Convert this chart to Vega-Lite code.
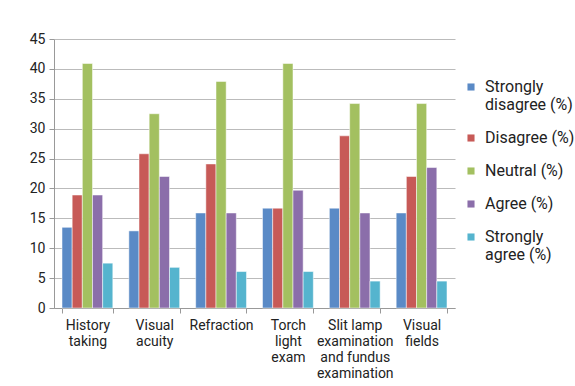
{
  "$schema": "https://vega.github.io/schema/vega-lite/v6.json",
  "autosize": "none",
  "width": 401,
  "height": 269,
  "padding": {"left": 54, "top": 39, "right": 120, "bottom": 78},
  "background": "white",
  "config": {
    "font": "Roboto",
    "view": {"stroke": null},
    "axis": {"labelFont": "Roboto", "labelColor": "#222", "labelFontSize": 14}
  },
  "data": {
    "values": [
      {"cat": "History taking", "series": "Strongly disagree (%)", "v": 13.5},
      {"cat": "History taking", "series": "Disagree (%)", "v": 18.9},
      {"cat": "History taking", "series": "Neutral (%)", "v": 40.9},
      {"cat": "History taking", "series": "Agree (%)", "v": 18.9},
      {"cat": "History taking", "series": "Strongly agree (%)", "v": 7.5},
      {"cat": "Visual acuity", "series": "Strongly disagree (%)", "v": 12.9},
      {"cat": "Visual acuity", "series": "Disagree (%)", "v": 25.8},
      {"cat": "Visual acuity", "series": "Neutral (%)", "v": 32.5},
      {"cat": "Visual acuity", "series": "Agree (%)", "v": 22.0},
      {"cat": "Visual acuity", "series": "Strongly agree (%)", "v": 6.8},
      {"cat": "Refraction", "series": "Strongly disagree (%)", "v": 15.9},
      {"cat": "Refraction", "series": "Disagree (%)", "v": 24.1},
      {"cat": "Refraction", "series": "Neutral (%)", "v": 37.9},
      {"cat": "Refraction", "series": "Agree (%)", "v": 15.9},
      {"cat": "Refraction", "series": "Strongly agree (%)", "v": 6.1},
      {"cat": "Torch light exam", "series": "Strongly disagree (%)", "v": 16.7},
      {"cat": "Torch light exam", "series": "Disagree (%)", "v": 16.7},
      {"cat": "Torch light exam", "series": "Neutral (%)", "v": 40.9},
      {"cat": "Torch light exam", "series": "Agree (%)", "v": 19.7},
      {"cat": "Torch light exam", "series": "Strongly agree (%)", "v": 6.1},
      {"cat": "Slit lamp examination and fundus examination", "series": "Strongly disagree (%)", "v": 16.7},
      {"cat": "Slit lamp examination and fundus examination", "series": "Disagree (%)", "v": 28.8},
      {"cat": "Slit lamp examination and fundus examination", "series": "Neutral (%)", "v": 34.2},
      {"cat": "Slit lamp examination and fundus examination", "series": "Agree (%)", "v": 15.9},
      {"cat": "Slit lamp examination and fundus examination", "series": "Strongly agree (%)", "v": 4.5},
      {"cat": "Visual fields", "series": "Strongly disagree (%)", "v": 15.9},
      {"cat": "Visual fields", "series": "Disagree (%)", "v": 22.0},
      {"cat": "Visual fields", "series": "Neutral (%)", "v": 34.2},
      {"cat": "Visual fields", "series": "Agree (%)", "v": 23.5},
      {"cat": "Visual fields", "series": "Strongly agree (%)", "v": 4.5}
    ]
  },
  "mark": {"type": "bar", "stroke": "white", "strokeWidth": 0.5},
  "encoding": {
    "x": {
      "field": "cat", "type": "nominal", "sort": null, "title": null,
      "scale": {"paddingInner": 0.24, "paddingOuter": 0.12},
      "axis": {
        "labelAngle": 0, "tickBand": "extent", "domainColor": "#999", "tickColor": "#999",
        "tickSize": 5, "labelPadding": 5, "labelLineHeight": 16, "labelLimit": 0,
        "labelExpr": "datum.label == 'History taking' ? ['History','taking'] : datum.label == 'Visual acuity' ? ['Visual','acuity'] : datum.label == 'Torch light exam' ? ['Torch','light','exam'] : datum.label == 'Slit lamp examination and fundus examination' ? ['Slit lamp','examination','and fundus','examination'] : datum.label == 'Visual fields' ? ['Visual','fields'] : datum.label"
      }
    },
    "xOffset": {"field": "series", "type": "nominal", "sort": ["Strongly disagree (%)", "Disagree (%)", "Neutral (%)", "Agree (%)", "Strongly agree (%)"]},
    "y": {
      "field": "v", "type": "quantitative", "title": null,
      "scale": {"domain": [0, 45], "nice": false},
      "axis": {"values": [0,5,10,15,20,25,30,35,40,45], "gridColor": "#bbb", "domainColor": "#999", "tickColor": "#999", "tickSize": 5, "labelPadding": 4, "labelFontSize": 14}
    },
    "color": {
      "field": "series", "type": "nominal",
      "sort": ["Strongly disagree (%)", "Disagree (%)", "Neutral (%)", "Agree (%)", "Strongly agree (%)"],
      "scale": {"domain": ["Strongly disagree (%)", "Disagree (%)", "Neutral (%)", "Agree (%)", "Strongly agree (%)"], "range": ["#5A8AC6", "#C75A57", "#A3C060", "#8B6EAA", "#55B4CE"]},
      "legend": {
        "title": null, "orient": "none", "legendX": 409, "legendY": 40,
        "symbolType": "square", "symbolSize": 50, "symbolStrokeWidth": 0,
        "labelFont": "Roboto", "labelFontSize": 16, "labelColor": "#222",
        "labelLineHeight": 18, "rowPadding": 17, "labelOffset": 6, "labelLimit": 0,
        "labelExpr": "datum.label == 'Strongly disagree (%)' ? ['Strongly','disagree (%)'] : datum.label == 'Strongly agree (%)' ? ['Strongly','agree (%)'] : datum.label"
      }
    }
  }
}
